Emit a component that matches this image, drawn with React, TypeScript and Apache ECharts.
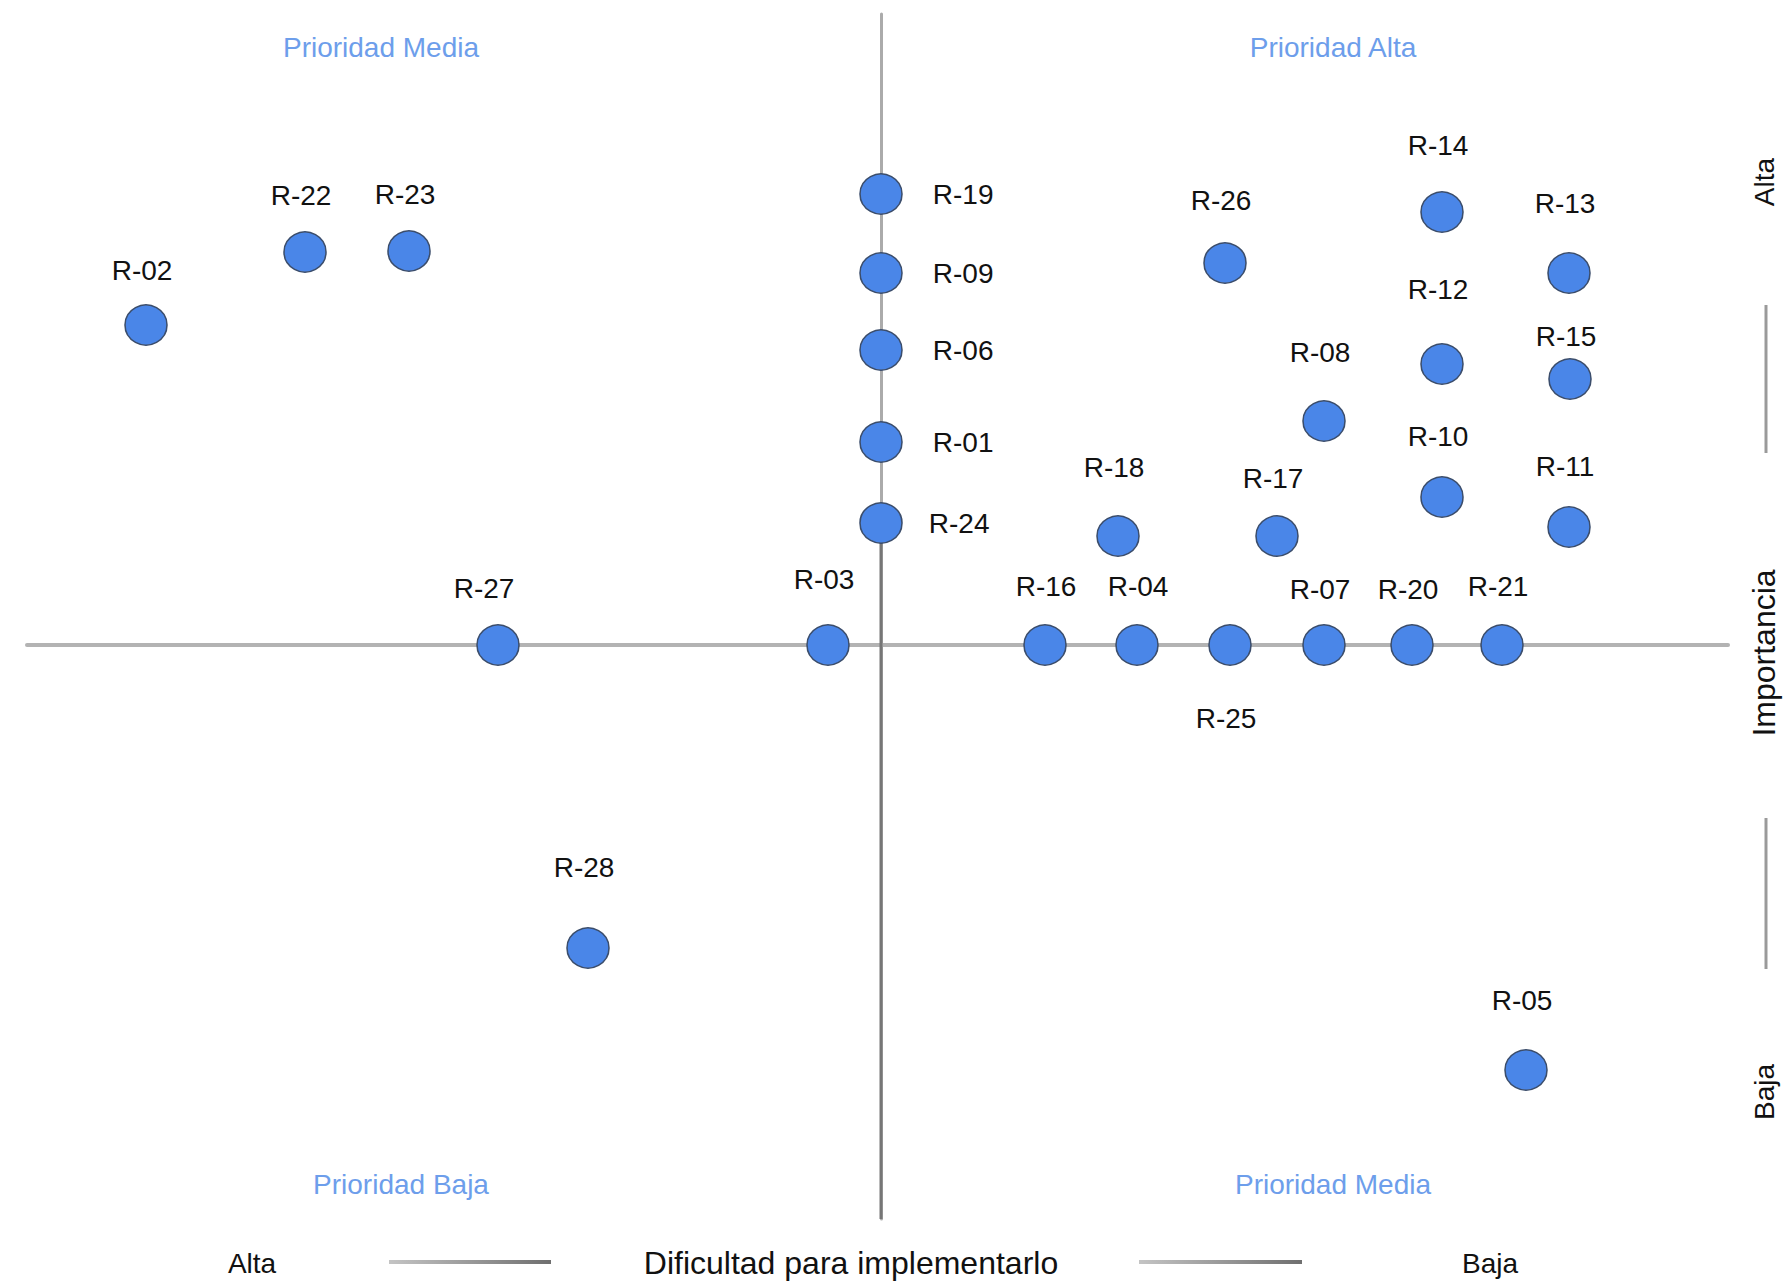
import React, { useEffect, useRef } from "react";
import * as echarts from "echarts";

// Risk identifiers
const riskIds = [
  "R-01", "R-02", "R-03", "R-04", "R-05", "R-06", "R-07", "R-08", "R-09", "R-10",
  "R-11", "R-12", "R-13", "R-14", "R-15", "R-16", "R-17", "R-18", "R-19", "R-20",
  "R-21", "R-22", "R-23", "R-24", "R-25", "R-26", "R-27", "R-28",
];
// Horizontal position: ease of implementation (left = high difficulty, right = low)
const easeScore = [
  0, -735, -53, 256, 645, 0, 443, 443, 0, 561,
  688, 561, 688, 561, 689, 164, 396, 237, 0, 531,
  621, -576, -472, 0, 349, 344, -383, -293,
];
// Vertical position: importance (up = high, down = low)
const importanceScore = [
  203, 320, 0, 0, -425, 295, 0, 224, 372, 148,
  118, 281, 372, 433, 266, 0, 109, 109, 451, 0,
  0, 393, 394, 122, 0, 382, 0, -303,
];
// Axis extents (same units)
const xRange = [-854, 847];
const yRange = [-574, 631];
// Importance value where the lower (darker) part of the vertical axis starts
const lowerAxisStart = 122;

// Quadrant captions
const quadrantTitles = ["Prioridad Media", "Prioridad Alta", "Prioridad Baja", "Prioridad Media"];
const xAxisTexts = ["Alta", "Dificultad para implementarlo", "Baja"];
const yAxisTexts = ["Alta", "Importancia", "Baja"];

// Label placement tweaks (layout only)
const rightLabels = ["R-19", "R-09", "R-06", "R-01", "R-24"];
const bottomLabels = ["R-25"];
const labelNudge: Record<string, [number, number]> = {
  "R-15": [0, 18],
  "R-12": [0, -14],
  "R-28": [0, -20],
  "R-05": [0, -9],
  "R-13": [0, -9],
  "R-08": [0, -8],
  "R-18": [0, -8],
  "R-14": [0, -6],
  "R-07": [0, 5],
  "R-20": [0, 5],
  "R-03": [0, -5],
  "R-27": [-10, 4],
  "R-16": [5, 2],
  "R-04": [5, 2],
  "R-21": [0, 2],
  "R-17": [0, 3],
  "R-02": [0, 6],
  "R-22": [0, 4],
  "R-23": [0, 4],
  "R-26": [0, -2],
  "R-25": [0, 13],
  "R-24": [-4, 0],
};

const FONT = "'Liberation Sans', Arial, sans-serif";

export default function App() {
  const ref = useRef<HTMLDivElement>(null);

  useEffect(() => {
    if (!ref.current) return;
    const chart = echarts.init(ref.current, undefined, { renderer: "svg" });

    const points = riskIds.map((id, i) => {
      const nudge = labelNudge[id] || [0, 0];
      let label: any;
      if (rightLabels.includes(id)) {
        label = { position: "right", distance: 30, offset: [nudge[0], nudge[1]] };
      } else if (bottomLabels.includes(id)) {
        label = { position: "bottom", distance: 26, offset: [-4 + nudge[0], nudge[1]] };
      } else {
        label = { position: "top", distance: 26, offset: [-4 + nudge[0], nudge[1]] };
      }
      return { name: id, value: [easeScore[i], importanceScore[i]], label };
    });

    const lineGrad = (x1: number, x2: number, y: number) =>
      new echarts.graphic.LinearGradient(x1, y, x2, y, [
        { offset: 0, color: "#c4c4c4" },
        { offset: 1, color: "#6f6f6f" },
      ], true);

    const option: any = {
      animation: false,
      backgroundColor: "#ffffff",
      grid: { left: 27, right: 55, top: 14, bottom: 62, containLabel: false },
      xAxis: {
        type: "value",
        min: xRange[0],
        max: xRange[1],
        axisLine: { show: true, onZero: true, lineStyle: { color: "#b3b3b3", width: 4 } },
        axisTick: { show: false },
        axisLabel: { show: false },
        splitLine: { show: false },
      },
      yAxis: {
        type: "value",
        min: yRange[0],
        max: yRange[1],
        axisLine: { show: true, onZero: true, lineStyle: { color: "#ababab", width: 3 } },
        axisTick: { show: false },
        axisLabel: { show: false },
        splitLine: { show: false },
      },
      series: [
        {
          type: "line",
          data: [[0, lowerAxisStart], [0, yRange[0]]],
          showSymbol: false,
          symbol: "none",
          lineStyle: { color: "#767676", width: 3 },
          z: 1,
          silent: true,
        },
        {
          type: "scatter",
          data: points,
          symbol: "circle",
          symbolSize: [42, 40],
          z: 3,
          itemStyle: { color: "#4a86e8", borderColor: "#3b4d6b", borderWidth: 1.5, opacity: 1 },
          label: {
            show: true,
            formatter: "{b}",
            color: "#111111",
            fontSize: 28,
            fontFamily: FONT,
          },
          emphasis: { disabled: true },
        },
      ],
      graphic: [
        { type: "text", x: 381, y: 47, style: { text: quadrantTitles[0], fill: "#6d9eeb", font: `28px ${FONT}`, textAlign: "center", textVerticalAlign: "middle" } },
        { type: "text", x: 1333, y: 47, style: { text: quadrantTitles[1], fill: "#6d9eeb", font: `28px ${FONT}`, textAlign: "center", textVerticalAlign: "middle" } },
        { type: "text", x: 401, y: 1184, style: { text: quadrantTitles[2], fill: "#6d9eeb", font: `28px ${FONT}`, textAlign: "center", textVerticalAlign: "middle" } },
        { type: "text", x: 1333, y: 1184, style: { text: quadrantTitles[3], fill: "#6d9eeb", font: `28px ${FONT}`, textAlign: "center", textVerticalAlign: "middle" } },

        { type: "text", x: 252, y: 1263, style: { text: xAxisTexts[0], fill: "#111", font: `28px ${FONT}`, textAlign: "center", textVerticalAlign: "middle" } },
        { type: "line", shape: { x1: 389, y1: 1262, x2: 551, y2: 1262 }, style: { stroke: lineGrad(389, 551, 1262), lineWidth: 4 } },
        { type: "text", x: 851, y: 1263, style: { text: xAxisTexts[1], fill: "#111", font: `32px ${FONT}`, textAlign: "center", textVerticalAlign: "middle" } },
        { type: "line", shape: { x1: 1139, y1: 1262, x2: 1302, y2: 1262 }, style: { stroke: lineGrad(1139, 1302, 1262), lineWidth: 4 } },
        { type: "text", x: 1490, y: 1263, style: { text: xAxisTexts[2], fill: "#111", font: `28px ${FONT}`, textAlign: "center", textVerticalAlign: "middle" } },

        { type: "text", x: 1764, y: 182, rotation: Math.PI / 2, style: { text: yAxisTexts[0], fill: "#111", font: `28px ${FONT}`, textAlign: "center", textVerticalAlign: "middle" } },
        { type: "line", shape: { x1: 1766, y1: 305, x2: 1766, y2: 453 }, style: { stroke: "#9a9a9a", lineWidth: 3 } },
        { type: "text", x: 1764, y: 653, rotation: Math.PI / 2, style: { text: yAxisTexts[1], fill: "#111", font: `32px ${FONT}`, textAlign: "center", textVerticalAlign: "middle" } },
        { type: "line", shape: { x1: 1766, y1: 818, x2: 1766, y2: 969 }, style: { stroke: "#9a9a9a", lineWidth: 3 } },
        { type: "text", x: 1764, y: 1092, rotation: Math.PI / 2, style: { text: yAxisTexts[2], fill: "#111", font: `28px ${FONT}`, textAlign: "center", textVerticalAlign: "middle" } },
      ],
    };

    chart.setOption(option);
    return () => chart.dispose();
  }, []);

  return (
    <div
      ref={ref}
      style={{ position: "fixed", left: 0, top: 0, width: "1783px", height: "1281px", background: "#fff" }}
    />
  );
}
